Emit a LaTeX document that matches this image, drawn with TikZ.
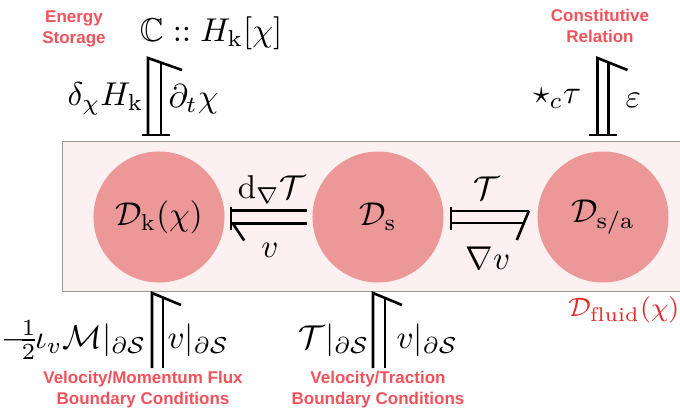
\documentclass[tikz,border=0pt]{standalone}
\usepackage{amsmath, amssymb}
\usepackage{fontspec}
\newfontfamily\tagfamily{Liberation Sans}
\usetikzlibrary{calc}

\definecolor{domainfill}{RGB}{252,240,240}
\definecolor{portfill}{RGB}{237,152,152}
\definecolor{tagred}{RGB}{242,82,92}
\definecolor{fluidred}{RGB}{228,40,40}
\newcommand\eqsize{\fontsize{10}{12}\selectfont}
\newcommand\tagsize{\fontsize{5.15}{6.4}\selectfont\tagfamily\bfseries}

\begin{document}
% one unit = one pixel of the 680x411 reference
\begin{tikzpicture}[x=0.30303pt, y=-0.30303pt,
  port/.style={circle, fill=portfill, minimum size=39.7pt, inner sep=0pt, font=\eqsize},
  math/.style={inner sep=0.3pt, font=\eqsize},
  tag/.style={text=tagred, align=center, font=\tagsize},
  bond/.style={line width=0.79pt}]
  \clip (0,0) rectangle (680,411);

  % Fluid domain
  \node[draw=gray!80, line width=0.3pt, fill=domainfill, minimum width=194pt, minimum height=45.45pt,
        anchor=north west] (fluid) at (62,141) {};
  \node[text=fluidred, font=\fontsize{8}{10}\selectfont, anchor=east, inner sep=0pt] (fl) at (680,310) {$\mathcal{D}_{\mathrm{fluid}}(\chi)$};

  % Ports
  \node[port] (Dk) at (159,217) {$\mathcal{D}_{\mathrm{k}}(\chi)$};
  \node[port] (Ds) at (378,217) {$\mathcal{D}_{\mathrm{s}}$};
  \node[port] (Dsa) at (603,217) {$\mathcal{D}_{\mathrm{s/a}}$};

  % Kinetic <- stress bond
  \coordinate (ks1) at ($(Dk.east)+(6,0)$);
  \coordinate (ks2) at ($(Ds.west)+(-5,0)$);
  \draw[bond] ($(ks1)+(0,-6.5)$) -- ($(ks2)+(0,-6.5)$)
              ($(ks1)+(0,6.5)$) -- ($(ks2)+(0,6.5)$);
  \draw[bond] ($(ks1)+(0,-10)$) -- ($(ks1)+(0,13)$);
  \draw[bond] ($(ks1)+(1,5.5)$) -- ++(12,18);
  \node[math] (dT) at (272,190) {$\mathrm{d}_{\nabla}\mathcal{T}$};
  \node[math] (v1) at (270,250) {$v$};

  % Stress -> symmetric/antisymmetric bond
  \coordinate (sa1) at ($(Ds.east)+(7,0)$);
  \coordinate (sa2) at ($(Dsa.west)+(-8,0)$);
  \draw[bond] ($(sa1)+(0,-6)$) -- ($(sa2)+(0,-6)$)
              ($(sa1)+(0,6)$) -- ($(sa2)+(-5,6)$);
  \draw[bond] ($(sa1)+(0,-10)$) -- ($(sa1)+(0,13)$);
  \draw[bond] ($(sa2)+(0,-6)$) -- ++(-12,29);
  \node[math] (T) at (487,188) {$\mathcal{T}$};
  \node[math] (gv) at (488,258) {$\nabla v$};

  % Energy storage bond
  \coordinate (esT) at (154.5,58);
  \coordinate (esB) at (154.5,135);
  \draw[bond] ($(esB)+(-6.5,0)$) -- ($(esT)+(-6.5,0)$) -- ++(34,12);
  \draw[bond] ($(esB)+(6.5,0)$) -- ($(esT)+(6.5,4.5)$);
  \draw[bond] ($(esB)+(-12,0)$) -- ($(esB)+(16,0)$);
  \node[math, anchor=east] (dH) at (145,99) {$\delta_\chi H_{\mathrm{k}}$};
  \node[math, anchor=west] (dtchi) at (167,99) {$\partial_t\chi$};
  \node[math] (CH) at (211,33) {$\mathbb{C}\mathrel{::}H_{\mathrm{k}}[\chi]$};
  \node[tag] (es) at (74,29) {Energy\\Storage};

  % Constitutive relation bond
  \coordinate (crT) at (603,58);
  \coordinate (crB) at (603,135);
  \draw[bond] ($(crB)+(-5.5,0)$) -- ($(crT)+(-5.5,0)$) -- ++(30,12);
  \draw[bond] ($(crB)+(5.5,0)$) -- ($(crT)+(5.5,4.4)$);
  \draw[bond] ($(crB)+(-14,0)$) -- ($(crB)+(14,0)$);
  \node[math, anchor=east] (startau) at (583,98) {$\star_c\tau$};
  \node[math, anchor=west] (eps) at (624,100) {$\varepsilon$};
  \node[tag] (cr) at (600,26) {Constitutive\\Relation};

  % Velocity/momentum flux boundary bond
  \coordinate (mbT) at (157.5,293);
  \coordinate (mbB) at (157.5,368);
  \draw[bond] ($(mbB)+(-5.5,0)$) -- ($(mbT)+(-5.5,0)$) -- ++(29,12);
  \draw[bond] ($(mbB)+(5.5,0)$) -- ($(mbT)+(5.5,4.6)$);
  \node[math, anchor=east] (mflux) at (148,340)
    {$\nulldelimiterspace=0pt -\!\frac{1}{2}\iota_v\mathcal{M}|_{\partial\mathcal{S}}$};
  \node[math, anchor=west] (vb1) at (166,340) {$v|_{\partial\mathcal{S}}$};
  \node[tag] (vmbc) at (143,390) {Velocity/Momentum Flux\\Boundary Conditions};

  % Velocity/traction boundary bond
  \coordinate (tbT) at (379,293);
  \coordinate (tbB) at (379,368);
  \draw[bond] ($(tbB)+(-6,0)$) -- ($(tbT)+(-6,0)$) -- ++(29,12);
  \draw[bond] ($(tbB)+(6,0)$) -- ($(tbT)+(6,5)$);
  \node[math, anchor=east] (Tb) at (371,340) {$\mathcal{T}|_{\partial\mathcal{S}}$};
  \node[math, anchor=west] (vb2) at (395,340) {$v|_{\partial\mathcal{S}}$};
  \node[tag] (vtbc) at (378,390) {Velocity/Traction\\Boundary Conditions};
\end{tikzpicture}
\end{document}
